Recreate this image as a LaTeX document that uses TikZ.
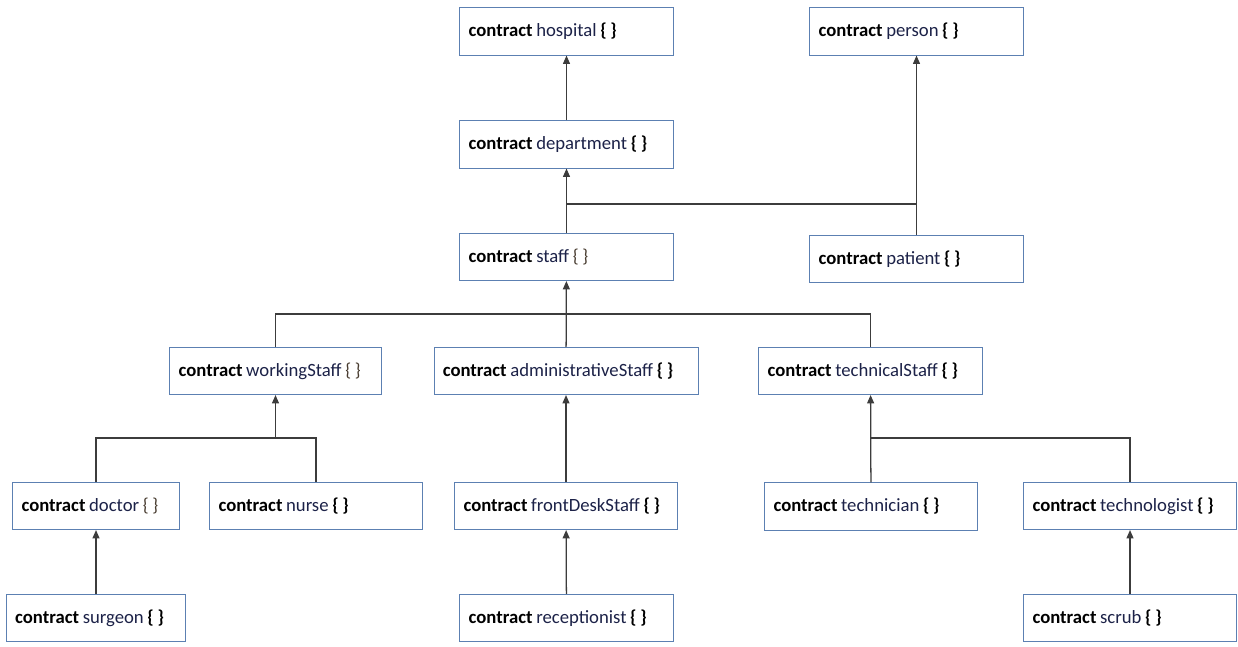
\documentclass[tikz,border=0pt]{standalone}
\usepackage{fontspec}
\setmainfont{Carlito}
\usepackage{xcolor}
\usepackage{tikz}
\usetikzlibrary{arrows.meta,calc}

\definecolor{boxblue}{RGB}{92,128,178}
\definecolor{namenavy}{RGB}{28,34,72}
\definecolor{thinbrace}{RGB}{72,60,48}
\definecolor{linegray}{RGB}{60,60,60}

\newcommand{\ctr}{\textbf{\color{black}contract}}
\newcommand{\braceB}{\textbf{\color{black}\{ \}}}
\newcommand{\braceT}{{\color{thinbrace}\{ \}}}

\begin{document}
\begin{tikzpicture}[x=0.025cm, y=-0.025cm,
  cbox/.style={draw=boxblue, line width=0.6pt, fill=white, text=namenavy,
    minimum height=1.18cm, inner xsep=0.22cm, text width=#1, align=left,
    font=\fontsize{13.3}{16}\selectfont,
    execute at begin node={\spaceskip=2.6pt\relax}},
  link/.style={draw=linegray, line width=0.9pt},
  arr/.style={link, -{Triangle[length=6pt,width=5pt]}}]
\useasboundingbox (0,0) rectangle (1238,646);

% top row
\node at (566.5,31.5) (hospital) [cbox=4.89cm] {\ctr{} hospital \braceB};
\node at (916.5,31.5) (person) [cbox=4.89cm] {\ctr{} person \braceB};
\node at (566.5,144.5) (department) [cbox=4.89cm] {\ctr{} department \braceB};
\node at (566.5,257) (staff) [cbox=4.89cm] {\ctr{} staff \braceT};
\node at (916.5,259) (patient) [cbox=4.89cm] {\ctr{} patient \braceB};

% staff kinds
\node at (275.5,371) (workingStaff) [cbox=4.84cm] {\ctr{} workingStaff \braceT};
\node at (566,371) (administrativeStaff) [cbox=6.16cm] {\ctr{} administrativeStaff \braceB};
\node at (870.5,371) (technicalStaff) [cbox=5.14cm] {\ctr{} technicalStaff \braceB};

% roles
\node at (96,506) (doctor) [cbox=3.72cm] {\ctr{} doctor \braceT};
\node at (316,506) (nurse) [cbox=4.87cm] {\ctr{} nurse \braceB};
\node at (566,506) (frontDeskStaff) [cbox=5.12cm] {\ctr{} frontDeskStaff \braceB};
\node at (871,506.5) (technician) [cbox=4.87cm] {\ctr{} technician \braceB};
\node at (1130,506) (technologist) [cbox=4.87cm] {\ctr{} technologist \braceB};

% bottom row
\node at (96,618) (surgeon) [cbox=4.04cm] {\ctr{} surgeon \braceB};
\node at (566.5,618) (receptionist) [cbox=4.89cm] {\ctr{} receptionist \braceB};
\node at (1130,618) (scrub) [cbox=4.87cm] {\ctr{} scrub \braceB};

% junctions
\coordinate (joinL) at (566.5,204);
\coordinate (joinR) at (patient.north |- joinL);
\coordinate (busS) at (staff.south |- 0,314);
\coordinate (busW) at (workingStaff.south |- 0,438);
\coordinate (busT) at (technicalStaff.south |- 0,438);

\draw[arr] (department) -- (hospital);
\draw[arr] (staff) -- (department);
\draw[arr] (patient) -- (person);
\draw[link] (joinL) -- (joinR);

\draw[arr] (administrativeStaff) -- (staff);
\draw[link] (workingStaff.north) |- (busS) -| (technicalStaff.north);

\draw[arr] (busW) -- (workingStaff);
\draw[link] (doctor.north) |- (busW) -| (nurse.north);
\draw[arr] (frontDeskStaff) -- (administrativeStaff);
\draw[arr] (technician) -- (technicalStaff);
\draw[link] (busT) -| (technologist.north);

\draw[arr] (surgeon) -- (doctor);
\draw[arr] (receptionist) -- (frontDeskStaff);
\draw[arr] (scrub) -- (technologist);
\end{tikzpicture}
\end{document}
